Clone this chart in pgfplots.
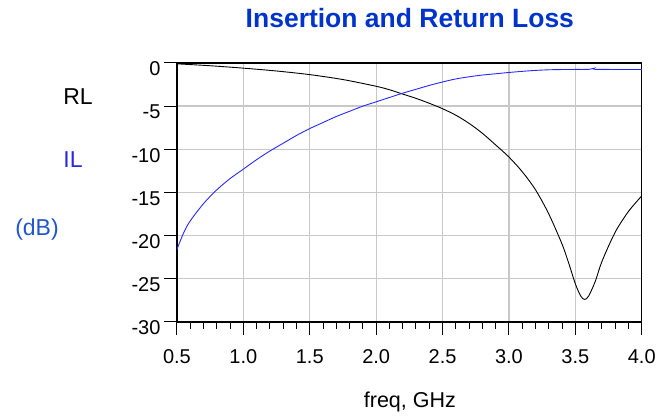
\documentclass[border=0pt]{standalone}
\usepackage{fontspec}
\setmainfont{Liberation Sans}
\usepackage{pgfplots}
\pgfplotsset{compat=1.18}
\definecolor{ttl}{RGB}{0,51,204}
\definecolor{ilc}{RGB}{40,40,220}
\definecolor{dbc}{RGB}{34,85,204}
\definecolor{gridc}{RGB}{200,200,200}
\definecolor{curveb}{RGB}{40,40,255}
\begin{document}
\begin{tikzpicture}[x=1pt,y=1pt]
\begin{axis}[
  at={(0,0)}, anchor=south west,
  scale only axis, width=465pt, height=259pt,
  xmin=0.5, xmax=4.0, ymin=-30, ymax=0,
  xtick={0.5,1.0,...,4.0},
  xticklabels={0.5,1.0,1.5,2.0,2.5,3.0,3.5,4.0},
  ytick={-30,-25,...,0},
  minor x tick num=4,
  tick pos=left,
  tick align=outside,
  major tick length=13pt,
  minor tick length=7pt,
  grid=major,
  major grid style={gridc, line width=1.3pt},
  axis line style={black, line width=1.3pt},
  every tick/.style={black, line width=1pt},
  /pgf/number format/assume math mode=true,
  tick label style={font=\fontsize{20}{23}\selectfont},
  xticklabel style={yshift=-11pt},
  yticklabel style={yshift=-6pt},
  clip=true,
]
\addplot[black, line width=0.9pt, smooth, tension=0.5] coordinates {
(0.5,-0.1) (0.75,-0.32) (1.0,-0.6) (1.25,-0.93) (1.5,-1.35) (1.75,-1.92)
(2.0,-2.7) (2.1,-3.1) (2.2,-3.6) (2.3,-4.1) (2.4,-4.67) (2.5,-5.3)
(2.6,-6.05) (2.7,-7.0) (2.8,-8.15) (2.9,-9.5) (3.0,-10.9) (3.1,-12.6)
(3.2,-14.7) (3.3,-17.5) (3.4,-21.0) (3.45,-23.2) (3.5,-25.6) (3.54,-27.0)
(3.57,-27.4) (3.6,-27.0) (3.65,-25.3) (3.7,-23.0) (3.8,-19.6) (3.9,-17.2)
(4.0,-15.4)
};
\addplot[curveb, line width=0.9pt, smooth, tension=0.5] coordinates {
(0.5,-21.6) (0.55,-19.7) (0.6,-18.3) (0.7,-16.3) (0.8,-14.7) (0.9,-13.4)
(1.0,-12.3) (1.1,-11.2) (1.2,-10.2) (1.3,-9.3) (1.4,-8.4) (1.5,-7.6)
(1.6,-6.9) (1.7,-6.2) (1.8,-5.6) (1.9,-5.0) (2.0,-4.5) (2.1,-4.0)
(2.2,-3.5) (2.3,-3.05) (2.4,-2.6) (2.5,-2.2) (2.6,-1.85) (2.7,-1.6)
(2.8,-1.4) (2.9,-1.25) (3.0,-1.1) (3.1,-0.97) (3.2,-0.86) (3.3,-0.79)
(3.4,-0.76) (3.5,-0.75) (3.6,-0.74) (3.64,-0.62) (3.66,-0.74) (4.0,-0.75)
};
\end{axis}
\node[font=\fontsize{26.5}{30}\selectfont\bfseries, text=ttl] at (233,304) {Insertion and Return Loss};
\node[font=\fontsize{23}{27}\selectfont] at (-99,225) {RL};
\node[font=\fontsize{23}{27}\selectfont, text=ilc] at (-104,162) {IL};
\node[font=\fontsize{23}{27}\selectfont, text=dbc] at (-140,92) {(dB)};
\node[font=\fontsize{21.5}{25}\selectfont] at (233,-80) {freq, GHz};
\path[use as bounding box] (-177,-95) rectangle (482,322);
\end{tikzpicture}
\end{document}
